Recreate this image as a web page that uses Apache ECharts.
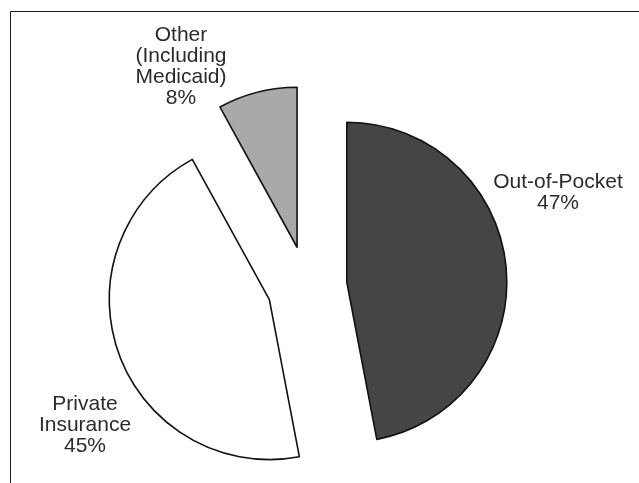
<!DOCTYPE html>
<html>
<head>
<meta charset="utf-8">
<script src="https://cdn.jsdelivr.net/npm/echarts@6/dist/echarts.min.js"></script>
<style>
  html, body { margin: 0; padding: 0; background: #fff; }
  #chart { width: 639px; height: 483px; }
</style>
</head>
<body>
<div id="chart"></div>
<script>
// Shares of spending by payer
const categories = ['Out-of-Pocket', 'Private\nInsurance', 'Other\n(Including\nMedicaid)'];
const shares = [47, 45, 8];
const fills = ['#454545', '#ffffff', '#a9a9a9'];

// Pie geometry
const pieCenter = [307, 286];
const pieRadius = 160;
const explode = 40;
// Label anchor offsets from the pie centre, one per slice
const labelOffsets = [[251, -93], [-222, 139], [-126, -219]];

const total = shares.reduce((a, b) => a + b, 0);

// Each slice is drawn by its own pie series whose centre is pushed out
// along the slice's bisector; the other slices of that series stay hidden.
let startDeg = 0;
const series = shares.map((share, i) => {
  const sweep = share / total * 360;
  const mid = (startDeg + sweep / 2) * Math.PI / 180;   // clockwise from 12 o'clock
  startDeg += sweep;
  const center = [pieCenter[0] + explode * Math.sin(mid), pieCenter[1] - explode * Math.cos(mid)];
  return {
    type: 'pie',
    center: center,
    radius: pieRadius,
    startAngle: 90,
    clockwise: true,
    silent: true,
    avoidLabelOverlap: false,
    emphasis: { disabled: true },
    label: {
      show: true,
      position: 'outside',
      fontFamily: '"Liberation Sans", Arial, sans-serif',
      fontSize: 21,
      lineHeight: 21,
      color: '#2b2b2b',
      align: 'center',
      formatter: p => p.name + '\n' + p.value + '%'
    },
    labelLine: { show: false },
    labelLayout: p => {
      const o = labelOffsets[p.dataIndex];
      return { x: pieCenter[0] + o[0], y: pieCenter[1] + o[1], align: 'center', verticalAlign: 'middle' };
    },
    data: categories.map((name, j) => ({
      name: name,
      value: shares[j],
      itemStyle: j === i
        ? { color: fills[j], borderColor: '#111', borderWidth: 1.6 }
        : { color: 'rgba(0,0,0,0)', borderWidth: 0 },
      label: { show: j === i }
    }))
  };
});

const chart = echarts.init(document.getElementById('chart'), null, { renderer: 'canvas' });

chart.setOption({
  backgroundColor: '#ffffff',
  animation: false,
  graphic: [
    {
      type: 'polyline',
      shape: { points: [[10.5, 483], [10.5, 11.5], [639, 11.5]] },
      style: { stroke: '#1a1a1a', lineWidth: 1, fill: null }
    }
  ],
  series: series
});
</script>
</body>
</html>
